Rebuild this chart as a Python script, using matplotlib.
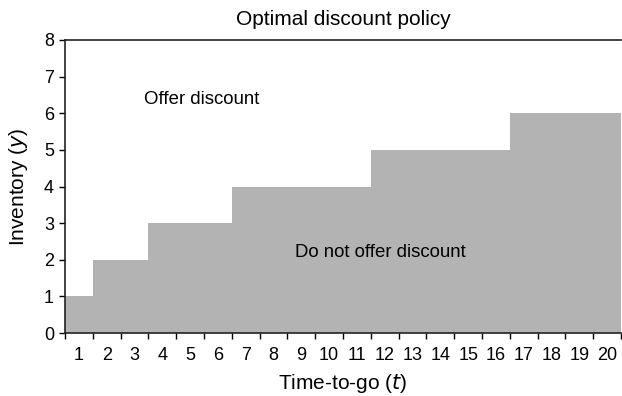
import matplotlib.pyplot as plt
import numpy as np

plt.rcParams['font.family'] = ['Liberation Sans', 'DejaVu Sans']

# time-to-go periods and discount threshold inventory
periods = list(range(1, 21))
threshold = [1, 2, 2, 3, 3, 3, 4, 4, 4, 4, 4, 5, 5, 5, 5, 5, 6, 6, 6, 6]

fig = plt.figure(figsize=(6.22, 3.96), dpi=100)
ax = fig.add_axes([0.1045, 0.159, 0.894, 0.74])

ax.bar(periods, threshold, width=1.0, color='#b3b3b3', edgecolor='none')

ax.set_xlim(0.5, 20.5)
ax.set_ylim(0, 8)
ax.set_yticks(range(0, 9))
ax.set_xticks(periods)
ax.set_xticks(np.arange(0.5, 21, 1.0), minor=True)
ax.tick_params(axis='x', which='major', length=0, labelsize=13, pad=10)
ax.tick_params(axis='x', which='minor', length=4, width=1, direction='out')
ax.tick_params(axis='y', length=4, width=1, labelsize=13, pad=4)

for s in ['left', 'bottom', 'top']:
    ax.spines[s].set_linewidth(1.2)
    ax.spines[s].set_color('#222222')
ax.spines['right'].set_visible(False)

ax.set_title('Optimal discount policy', fontsize=15, pad=11)
ax.set_xlabel('Time-to-go ($\\it{t}$)', fontsize=15, labelpad=6)
ax.set_ylabel('Inventory ($\\it{y}$)', fontsize=15, labelpad=10)

ax.text(5.43, 6.37, 'Offer discount', fontsize=13.4, ha='center', va='center')
ax.text(11.85, 2.19, 'Do not offer discount', fontsize=13.4, ha='center', va='center')

fig.savefig('out.png', dpi=100)
